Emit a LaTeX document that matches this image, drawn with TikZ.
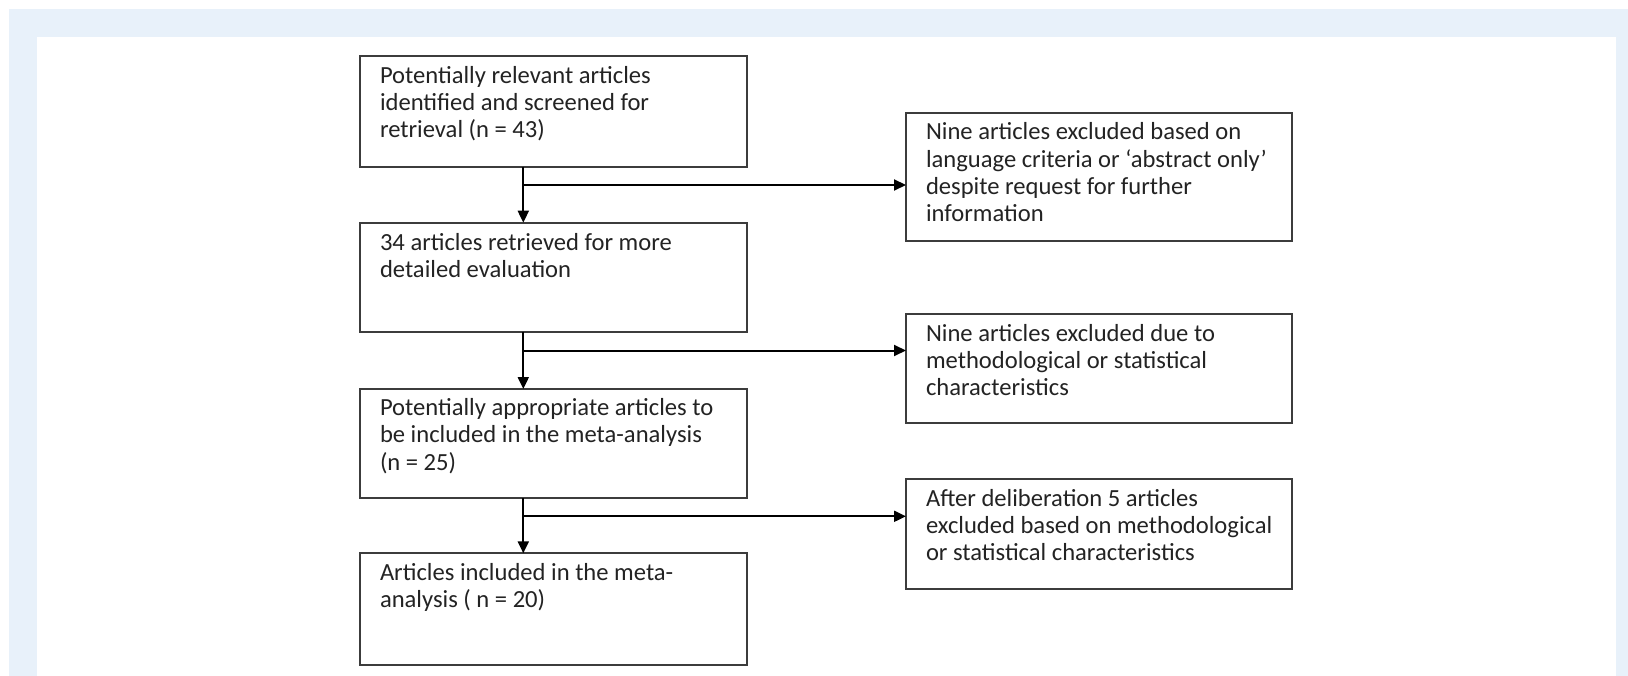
\documentclass[tikz,border=0pt]{standalone}
\usepackage{fontspec}
\setmainfont{Carlito}
\usetikzlibrary{arrows.meta}
\definecolor{panelblue}{RGB}{232,241,250}
\definecolor{boxline}{RGB}{60,60,60}
\definecolor{txtcol}{RGB}{35,35,35}
\begin{document}
\begin{tikzpicture}[x=1pt,y=-1pt,
  box/.style={draw=boxline,line width=2pt,inner sep=0pt,outer sep=0pt,anchor=north west},
  txt/.style={anchor=north west,inner sep=0pt,outer sep=0pt,align=left,text=txtcol,
    font=\fontsize{24.6}{27.3}\selectfont,execute at begin node=\strut},
  arr/.style={draw=black,line width=2pt,-{Triangle[length=12pt,width=11pt]}},
]
\useasboundingbox (0,0) rectangle (1628,676);
\fill[panelblue] (9,9) rectangle (1628,676);
\fill[white] (36.7,36.7) rectangle (1616,676);

% left column
\node[box,minimum width=386.7pt,minimum height=111pt] (b1) at (360,55.7) {};
\node[box,minimum width=386.7pt,minimum height=109pt] (b2) at (360,222.7) {};
\node[box,minimum width=386.7pt,minimum height=109.3pt] (b3) at (360,389) {};
\node[box,minimum width=386.7pt,minimum height=111.7pt] (b4) at (360,553.3) {};
% right column
\node[box,minimum width=385.7pt,minimum height=128.3pt] (r1) at (906,112.7) {};
\node[box,minimum width=385.7pt,minimum height=109.3pt] (r2) at (906,314) {};
\node[box,minimum width=385.7pt,minimum height=110pt] (r3) at (906,479) {};

% texts
\node[txt] (t1) at ([shift={(20,10.4)}]b1.north west) {Potentially relevant articles\\identified and screened for\\retrieval (n = 43)};
\node[txt] (t2) at ([shift={(20,10.4)}]b2.north west) {34 articles retrieved for more\\detailed evaluation};
\node[txt] (t3) at ([shift={(20,9.4)}]b3.north west) {Potentially appropriate articles to\\be included in the meta-analysis\\(n = 25)};
\node[txt] (t4) at ([shift={(20,10)}]b4.north west) {Articles included in the meta-\\analysis ( n = 20)};
\node[txt] (u1) at ([shift={(20,10)}]r1.north west) {Nine articles excluded based on\\language criteria or ‘abstract only’\\despite request for further\\information};
\node[txt] (u2) at ([shift={(20,10.2)}]r2.north west) {Nine articles excluded due to\\methodological or statistical\\characteristics};
\node[txt] (u3) at ([shift={(20,10.2)}]r3.north west) {After deliberation 5 articles\\excluded based on methodological\\or statistical characteristics};

% junctions
\coordinate (j1) at (523.3,185);
\coordinate (j2) at (523.3,350.5);
\coordinate (j3) at (523.3,516.3);

% connectors
\draw[arr] (b1.south -| j1) -- (b2.north -| j1);
\draw[arr] (b2.south -| j2) -- (b3.north -| j2);
\draw[arr] (b3.south -| j3) -- (b4.north -| j3);
\draw[arr] (j1) -- (j1 -| r1.west);
\draw[arr] (j2) -- (j2 -| r2.west);
\draw[arr] (j3) -- (j3 -| r3.west);
\end{tikzpicture}
\end{document}
